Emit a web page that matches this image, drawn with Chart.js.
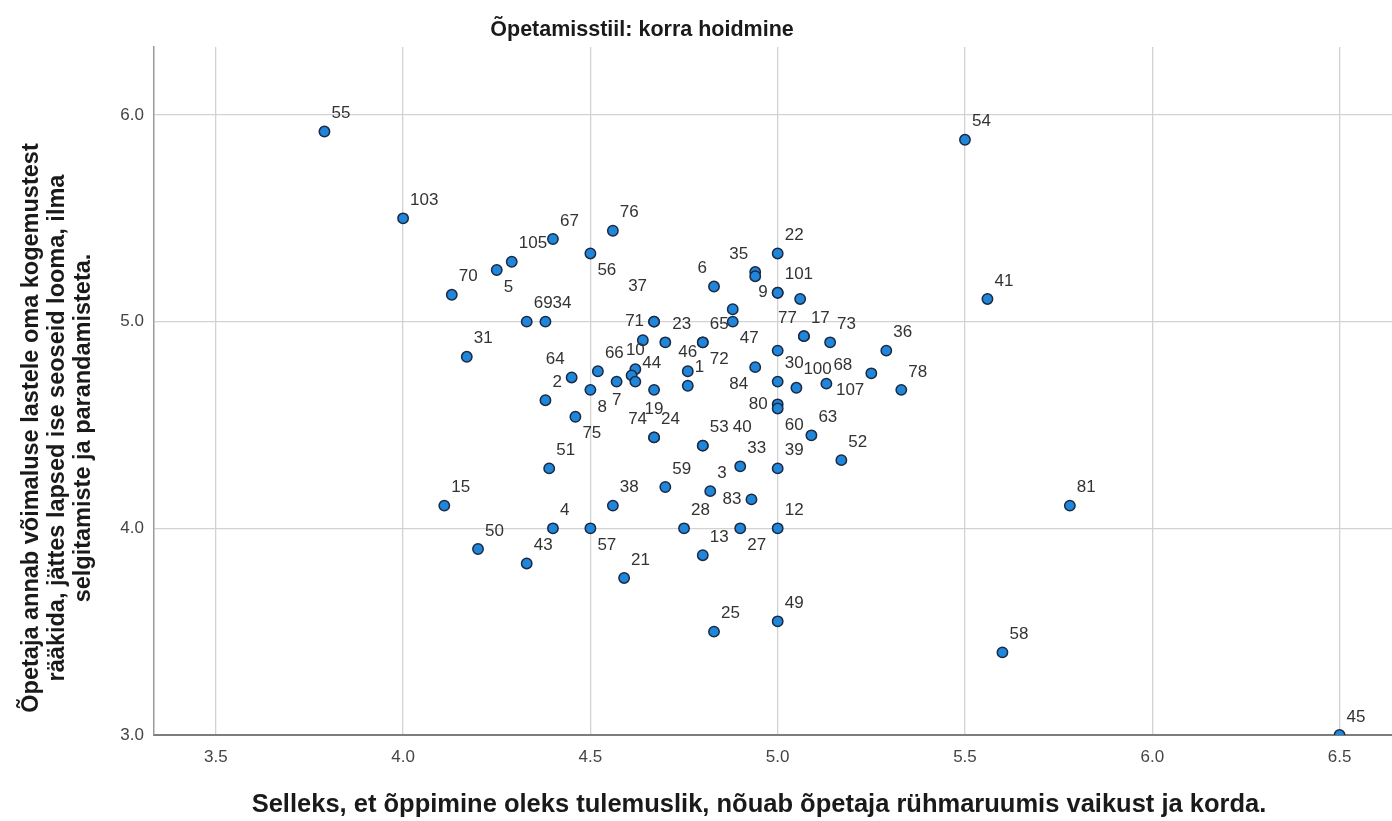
<!DOCTYPE html>
<html>
<head>
<meta charset="utf-8">
<script src="https://cdn.jsdelivr.net/npm/chart.js@4.4.1/dist/chart.umd.min.js"></script>
<style>
  html, body { margin: 0; padding: 0; background: #ffffff; overflow: hidden; }
  #wrap { width: 1392px; height: 821px; position: relative; }
  #wrap canvas { display: block; }
</style>
</head>
<body>
<div id="wrap"><canvas id="chart"></canvas></div>
<script>
// ---------------- data ----------------
const chartTitle = 'Õpetamisstiil: korra hoidmine';
const xAxisTitle = 'Selleks, et õppimine oleks tulemuslik, nõuab õpetaja rühmaruumis vaikust ja korda.';
const yAxisTitle = [
  'Õpetaja annab võimaluse lastele oma kogemustest',
  'rääkida, jättes lapsed ise seoseid looma, ilma',
  'selgitamiste ja parandamisteta.'
];

const xTickValues = [3.5, 4.0, 4.5, 5.0, 5.5, 6.0, 6.5];
const yTickValues = [3.0, 4.0, 5.0, 6.0];

const caseLabels = [
  '55','103','67','76','105','5','70','56','6','35','','22','9','101','','54','41','69','34','31',
  '71','37','','23','65','72','','47','','66','64','2','8','7','10','','44','19','46','1','84','30',
  '80','60','100','68','107','78','36','17','77','73','75','24','74','53','40','63','52',
  '51','33','39','59','3','83','38','15','4','57','28','27','12','13','50','43','21','25','49',
  '81','58','45'
];
const xValues = [
  3.79,4.00,4.40,4.56,4.29,4.25,4.13,4.50,4.83,4.94,4.94,5.00,5.00,5.00,5.06,5.50,5.56,4.33,4.38,4.17,
  4.67,4.67,4.64,4.70,4.80,4.80,4.88,4.88,5.00,4.52,4.45,4.38,4.50,4.57,4.62,4.61,4.62,4.67,4.76,4.76,4.94,5.00,
  5.00,5.00,5.05,5.13,5.25,5.33,5.29,5.07,5.07,5.14,4.46,4.67,4.67,4.80,4.80,5.09,5.17,
  4.39,4.90,5.00,4.70,4.82,4.93,4.56,4.11,4.40,4.50,4.75,4.90,5.00,4.80,4.20,4.33,4.59,4.83,5.00,
  5.78,5.60,6.50
];
const yValues = [
  5.92,5.50,5.40,5.44,5.29,5.25,5.13,5.33,5.17,5.24,5.22,5.33,5.14,5.14,5.11,5.88,5.11,5.00,5.00,4.83,
  5.00,5.00,4.91,4.90,4.90,4.90,5.06,5.00,4.86,4.76,4.73,4.62,4.67,4.71,4.77,4.74,4.71,4.67,4.76,4.69,4.78,4.71,
  4.60,4.58,4.68,4.70,4.75,4.67,4.86,4.93,4.93,4.90,4.54,4.44,4.44,4.40,4.40,4.45,4.33,
  4.29,4.30,4.29,4.20,4.18,4.14,4.11,4.11,4.00,4.00,4.00,4.00,4.00,3.87,3.90,3.83,3.76,3.50,3.55,
  4.11,3.40,3.00
];
// side of the point on which each case label sits
const labelSides = [
  'ne','ne','ne','ne','ne','se','ne','se','nw','nw','ne','ne','w','ne','ne','ne','ne','ne','ne','ne',
  'w','nw2','ne','ne','ne','se','ne','se','ne','ne','nw','ne','se','s','n','ne','ne','s','n','ne','sw','ne',
  'w','se','ne','ne','sw','ne','ne','ne','nw','ne','se','ne','nw','ne','ne2','ne','ne',
  'ne','ne','ne','ne','ne','w','ne','ne','ne','se','ne','se','ne','ne','ne','ne','ne','ne','ne',
  'ne','ne','ne'
];

// ---------------- styling ----------------
const FONT = "Arial, 'Liberation Sans', Helvetica, sans-serif";
const points = xValues.map((x, i) => ({ x: x, y: yValues[i] }));

const labelOffsets = {
  ne:  { dx: 7,   dy: -18, align: 'left' },
  nw:  { dx: -7,  dy: -18, align: 'right' },
  se:  { dx: 7,   dy: 17,  align: 'left' },
  sw:  { dx: -7,  dy: 17,  align: 'right' },
  n:   { dx: 0,   dy: -19, align: 'center' },
  s:   { dx: 0,   dy: 19,  align: 'center' },
  e:   { dx: 9,   dy: 0,   align: 'left' },
  w:   { dx: -10, dy: 0,   align: 'right' },
  nw2: { dx: -7,  dy: -35, align: 'right' },
  ne2: { dx: 30,  dy: -18, align: 'left' }
};

const caseLabelPlugin = {
  id: 'caseLabels',
  afterDatasetsDraw(chart) {
    const ctx = chart.ctx;
    const meta = chart.getDatasetMeta(0);
    ctx.save();
    ctx.font = '17px ' + FONT;
    ctx.fillStyle = '#333333';
    ctx.textBaseline = 'middle';
    meta.data.forEach((el, i) => {
      const txt = caseLabels[i];
      if (!txt) return;
      const o = labelOffsets[labelSides[i]] || labelOffsets.ne;
      ctx.textAlign = o.align;
      ctx.fillText(txt, el.x + o.dx, el.y + o.dy);
    });
    ctx.restore();
  }
};

const titlesPlugin = {
  id: 'titles',
  afterDraw(chart) {
    const ctx = chart.ctx;
    ctx.save();
    ctx.fillStyle = '#1a1a1a';
    ctx.textAlign = 'center';
    ctx.textBaseline = 'middle';
    ctx.font = 'bold 21.5px ' + FONT;
    ctx.fillText(chartTitle, 642, 30);
    ctx.font = 'bold 25.5px ' + FONT;
    ctx.fillText(xAxisTitle, 759, 805);
    ctx.font = 'bold 23.5px ' + FONT;
    ctx.translate(0, 428);
    ctx.rotate(-Math.PI / 2);
    yAxisTitle.forEach((line, i) => {
      ctx.fillText(line, 0, 32 + i * 26);
    });
    ctx.restore();
  }
};

new Chart(document.getElementById('chart'), {
  type: 'scatter',
  data: {
    datasets: [{
      data: points,
      backgroundColor: '#1f86d9',
      borderColor: '#1b2a44',
      borderWidth: 1.5,
      pointRadius: 5.2,
      pointHoverRadius: 5.2
    }]
  },
  options: {
    responsive: true,
    maintainAspectRatio: false,
    animation: false,
    layout: { autoPadding: false, padding: { top: 47, left: 0, right: 0, bottom: 0 } },
    plugins: {
      legend: { display: false },
      tooltip: { enabled: false },
      title: { display: false }
    },
    scales: {
      x: {
        type: 'linear',
        min: 3.335,
        max: 6.64,
        afterBuildTicks: (s) => { s.ticks = xTickValues.map(v => ({ value: v })); },
        afterFit: (s) => { s.height = 86; },
        grid: { color: '#d2d2d2', lineWidth: 1.3, drawTicks: false },
        border: { color: '#7d7d7d', width: 2 },
        ticks: {
          padding: 12,
          color: '#444444',
          font: { family: FONT, size: 17 },
          callback: (v) => Number(v).toFixed(1)
        },
        title: { display: false }
      },
      y: {
        type: 'linear',
        min: 3.0,
        max: 6.329,
        afterBuildTicks: (s) => { s.ticks = yTickValues.map(v => ({ value: v })); },
        afterFit: (s) => { s.width = 154; },
        grid: { color: '#d2d2d2', lineWidth: 1.3, drawTicks: false },
        border: { color: '#9a9a9a', width: 1.5 },
        ticks: {
          padding: 10,
          color: '#444444',
          font: { family: FONT, size: 17 },
          callback: (v) => Number(v).toFixed(1)
        },
        title: { display: false }
      }
    }
  },
  plugins: [caseLabelPlugin, titlesPlugin]
});
</script>
</body>
</html>
